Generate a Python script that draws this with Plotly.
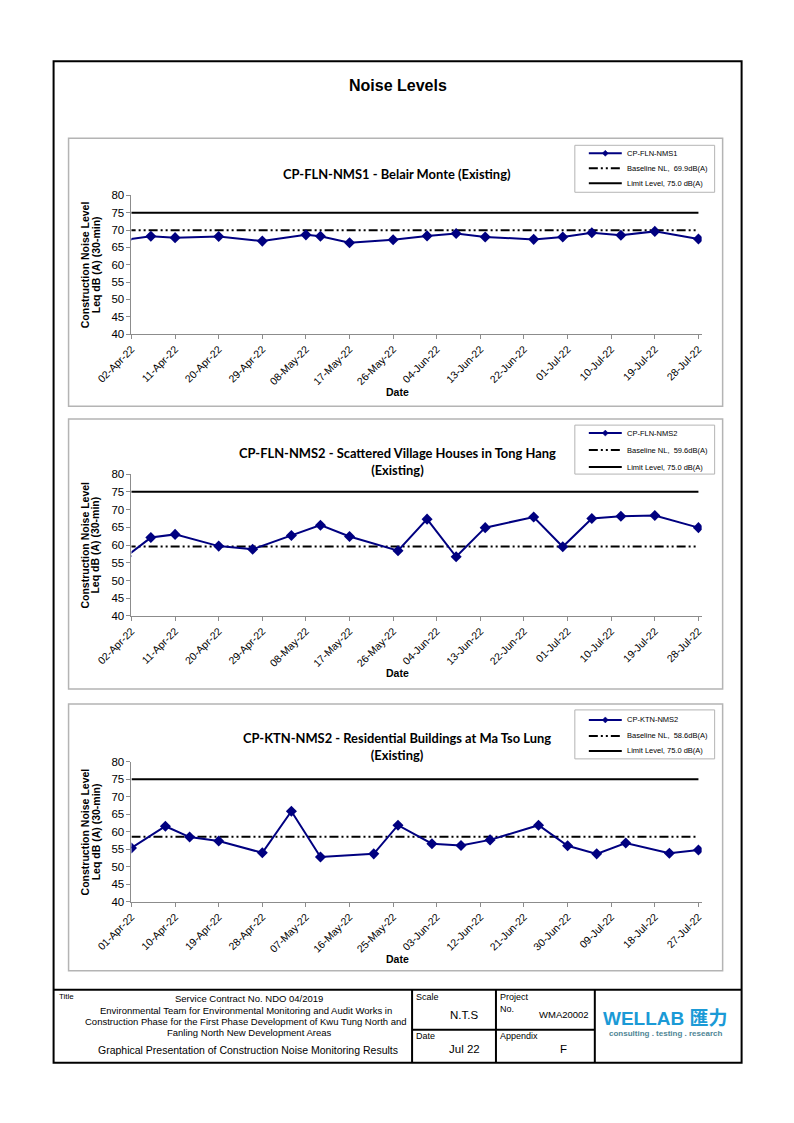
import plotly.graph_objects as go

W, H = 794, 1123

# calibration between page pixels and rendered picture
SX, OX = 0.9535, 42.4
SY, OY = 0.990, 12.6


def px(x):
    return ((x - OX) / SX) / W


def py(y):
    return 1 - ((y - OY) / SY) / H


# ---------------- data ----------------
nms1_dates = ["2022-04-01", "2022-04-06", "2022-04-11", "2022-04-20", "2022-04-29", "2022-05-08",
              "2022-05-11", "2022-05-17", "2022-05-26", "2022-06-02", "2022-06-08", "2022-06-14",
              "2022-06-24", "2022-06-30", "2022-07-06", "2022-07-12", "2022-07-19", "2022-07-28"]
nms1_values = [67.2, 68.2, 67.8, 68.1, 66.8, 68.6, 68.2, 66.3, 67.2, 68.3, 69.0, 68.0,
               67.3, 68.0, 69.2, 68.5, 69.6, 67.4]
nms1_baseline = 69.9

nms2_dates = ["2022-04-01", "2022-04-06", "2022-04-11", "2022-04-20", "2022-04-27", "2022-05-05",
              "2022-05-11", "2022-05-17", "2022-05-27", "2022-06-02", "2022-06-08", "2022-06-14",
              "2022-06-24", "2022-06-30", "2022-07-06", "2022-07-12", "2022-07-19", "2022-07-28"]
nms2_values = [56.9, 62.1, 63.0, 59.7, 58.8, 62.7, 65.6, 62.4, 58.4, 67.3, 56.7, 64.9,
               67.9, 59.5, 67.5, 68.1, 68.3, 64.9]
nms2_baseline = 59.6

ktn_dates = ["2022-04-01", "2022-04-08", "2022-04-13", "2022-04-19", "2022-04-28", "2022-05-04",
             "2022-05-10", "2022-05-21", "2022-05-26", "2022-06-02", "2022-06-08", "2022-06-14",
             "2022-06-24", "2022-06-30", "2022-07-06", "2022-07-12", "2022-07-21", "2022-07-27"]
ktn_values = [55.4, 61.6, 58.5, 57.4, 54.0, 65.9, 52.8, 53.7, 61.9, 56.6, 56.1, 57.7,
              61.9, 56.0, 53.7, 56.8, 53.9, 54.8]
ktn_baseline = 58.6

limit_level = 75.0

station_names = ["CP-FLN-NMS1", "CP-FLN-NMS2", "CP-KTN-NMS2"]
chart_titles = [
    "CP-FLN-NMS1 - Belair Monte (Existing)",
    "CP-FLN-NMS2 - Scattered Village Houses in Tong Hang<br>(Existing)",
    "CP-KTN-NMS2 - Residential Buildings at Ma Tso Lung<br>(Existing)",
]
baseline_labels = ["Baseline NL,  69.9dB(A)", "Baseline NL,  59.6dB(A)", "Baseline NL,  58.6dB(A)"]
limit_labels = ["Limit Level, 75.0 dB(A)", "Limit Level, 75.0 dB(A)", "Limit Level, 75.0 dB(A)"]
axis_starts = ["2022-04-02", "2022-04-02", "2022-04-01"]
axis_ends = ["2022-07-28 16:00", "2022-07-28 16:00", "2022-07-27 16:00"]
y_range = [40, 80]
y_dtick = 5
x_dtick_days = 9

# ---------------- layout geometry (pixels) ----------------
panels = [
    dict(dates=nms1_dates, values=nms1_values, baseline=nms1_baseline,
         box=(67, 137, 722, 405), plot_top=194, plot_bottom=333,
         title_y=173, date_y=391, leg_box=(574, 144, 714, 191), leg_rows=(152, 167, 182)),
    dict(dates=nms2_dates, values=nms2_values, baseline=nms2_baseline,
         box=(67, 418, 722, 688), plot_top=473, plot_bottom=615,
         title_y=460, date_y=672, leg_box=(574, 424, 714, 473), leg_rows=(432, 449, 466)),
    dict(dates=ktn_dates, values=ktn_values, baseline=ktn_baseline,
         box=(67, 703, 722, 970), plot_top=761, plot_bottom=901,
         title_y=746, date_y=958, leg_box=(574, 709, 714, 758), leg_rows=(719, 735, 750)),
]
plot_left, plot_right = 130, 701

NAVY = "#000080"
AXIS_GREY = "#8c8c8c"
DASHDOTDOT = "9px,3px,2px,3px,2px,3px"
FONT = "Liberation Sans, Arial, sans-serif"
TITLE_FONT = "Lato, Liberation Sans, sans-serif"

fig = go.Figure()
shapes = []
annotations = []
layout_axes = {}

for i, p in enumerate(panels):
    n = "" if i == 0 else str(i + 1)
    xa, ya = "x" + n, "y" + n
    dates = p["dates"]
    # baseline
    fig.add_trace(go.Scatter(x=[dates[0], dates[-1]], y=[p["baseline"], p["baseline"]],
                             mode="lines", line=dict(color="black", width=2, dash=DASHDOTDOT),
                             xaxis=xa, yaxis=ya, showlegend=False, hoverinfo="skip"))
    # limit
    fig.add_trace(go.Scatter(x=[dates[0], dates[-1]], y=[limit_level, limit_level],
                             mode="lines", line=dict(color="black", width=2),
                             xaxis=xa, yaxis=ya, showlegend=False, hoverinfo="skip"))
    # measured
    fig.add_trace(go.Scatter(x=dates, y=p["values"], mode="lines+markers", name=station_names[i],
                             line=dict(color=NAVY, width=2),
                             marker=dict(symbol="diamond", size=8.5, color=NAVY),
                             cliponaxis=True, xaxis=xa, yaxis=ya, showlegend=False))

    layout_axes["xaxis" + n] = dict(
        domain=[px(plot_left), px(plot_right)], anchor=ya, type="date",
        range=[axis_starts[i], axis_ends[i]], tick0=axis_starts[i],
        dtick=x_dtick_days * 86400000, tickformat="%d-%b-%y", tickangle=-45,
        ticks="outside", ticklen=4, tickcolor=AXIS_GREY, showline=True, linecolor=AXIS_GREY,
        linewidth=1, showgrid=False, zeroline=False,
        tickfont=dict(family=FONT, size=10.5, color="black"))
    layout_axes["yaxis" + n] = dict(
        domain=[py(p["plot_bottom"]), py(p["plot_top"])], anchor=xa,
        range=y_range, dtick=y_dtick, ticks="outside", ticklen=4, tickcolor=AXIS_GREY,
        showline=True, linecolor=AXIS_GREY, linewidth=1, showgrid=False, zeroline=False,
        tickfont=dict(family=FONT, size=11.5, color="black"))

    # panel box
    x0, y0, x1, y1 = p["box"]
    shapes.append(dict(type="rect", xref="paper", yref="paper", x0=px(x0), x1=px(x1),
                       y0=py(y1), y1=py(y0), line=dict(color="#b4b4b4", width=1.5)))
    # chart title
    annotations.append(dict(text="<b>" + chart_titles[i] + "</b>", x=px(396), y=py(p["title_y"]),
                            xref="paper", yref="paper", showarrow=False, xanchor="center",
                            yanchor="middle", font=dict(family=TITLE_FONT, size=12.9, color="black")))
    # y title (two lines)
    mid = (p["plot_top"] + p["plot_bottom"]) / 2
    annotations.append(dict(text="<b>Construction Noise Level</b>", x=px(83), y=py(mid),
                            xref="paper", yref="paper", showarrow=False, textangle=-90,
                            xanchor="center", yanchor="middle",
                            font=dict(family=FONT, size=10.5, color="black")))
    annotations.append(dict(text="<b>Leq dB (A) (30-min)</b>", x=px(94), y=py(mid),
                            xref="paper", yref="paper", showarrow=False, textangle=-90,
                            xanchor="center", yanchor="middle",
                            font=dict(family=FONT, size=10.5, color="black")))
    # x title
    annotations.append(dict(text="<b>Date</b>", x=px(396), y=py(p["date_y"]), xref="paper",
                            yref="paper", showarrow=False, xanchor="center", yanchor="middle",
                            font=dict(family=FONT, size=10.5, color="black")))
    # legend box
    lx0, ly0, lx1, ly1 = p["leg_box"]
    shapes.append(dict(type="rect", xref="paper", yref="paper", x0=px(lx0), x1=px(lx1),
                       y0=py(ly1), y1=py(ly0), line=dict(color="#b4b4b4", width=1),
                       fillcolor="white"))
    r1, r2, r3 = p["leg_rows"]
    shapes.append(dict(type="line", xref="paper", yref="paper", x0=px(588), x1=px(621),
                       y0=py(r1), y1=py(r1), line=dict(color=NAVY, width=2)))
    cx, d = 604.5, 3
    shapes.append(dict(type="path", xref="paper", yref="paper",
                       path=f"M {px(cx - d)},{py(r1)} L {px(cx)},{py(r1 - d)} L {px(cx + d)},{py(r1)} L {px(cx)},{py(r1 + d)} Z",
                       fillcolor=NAVY, line=dict(color=NAVY, width=0.5)))
    shapes.append(dict(type="line", xref="paper", yref="paper", x0=px(588), x1=px(621),
                       y0=py(r2), y1=py(r2), line=dict(color="black", width=2, dash=DASHDOTDOT)))
    shapes.append(dict(type="line", xref="paper", yref="paper", x0=px(588), x1=px(621),
                       y0=py(r3), y1=py(r3), line=dict(color="black", width=2)))
    for txt_, ry in ((station_names[i], r1), (baseline_labels[i], r2), (limit_labels[i], r3)):
        annotations.append(dict(text=txt_, x=px(624), y=py(ry), xref="paper", yref="paper",
                                showarrow=False, xanchor="left", yanchor="middle",
                                font=dict(family=FONT, size=7.5, color="black")))

# ---------------- page frame & title block ----------------
BLK = dict(color="black", width=2)
shapes += [
    dict(type="rect", xref="paper", yref="paper", x0=px(52), x1=px(741), y0=py(1062), y1=py(60), line=BLK),
    dict(type="line", xref="paper", yref="paper", x0=px(52), x1=px(741), y0=py(989), y1=py(989), line=BLK),
    dict(type="line", xref="paper", yref="paper", x0=px(411), x1=px(411), y0=py(989), y1=py(1062), line=BLK),
    dict(type="line", xref="paper", yref="paper", x0=px(495), x1=px(495), y0=py(989), y1=py(1062), line=BLK),
    dict(type="line", xref="paper", yref="paper", x0=px(594), x1=px(594), y0=py(989), y1=py(1062), line=BLK),
    dict(type="line", xref="paper", yref="paper", x0=px(411), x1=px(594), y0=py(1029), y1=py(1029), line=BLK),
]


def txt(text, x, y, size, anchor="center", bold=False, color="black", family=FONT):
    if bold:
        text = "<b>" + text + "</b>"
    annotations.append(dict(text=text, x=px(x), y=py(y), xref="paper", yref="paper",
                            showarrow=False, xanchor=anchor, yanchor="middle",
                            font=dict(family=family, size=size, color=color)))


txt("Noise Levels", 397, 84, 16, bold=True)
txt("Title", 55, 996, 8, anchor="left")
txt("Service Contract No. NDO 04/2019", 248, 998, 9.5)
txt("Environmental Team for Environmental Monitoring and Audit Works in", 245, 1010, 9.5)
txt("Construction Phase for the First Phase Development of Kwu Tung North and", 245, 1021, 9.5)
txt("Fanling North New Development Areas", 248, 1032, 9.5)
txt("Graphical Presentation of Construction Noise Monitoring Results", 247, 1049, 10.5)
txt("Scale", 413, 996, 9, anchor="left")
txt("N.T.S", 463, 1014, 11.5)
txt("Date", 413, 1035, 9, anchor="left")
txt("Jul 22", 463, 1048, 11.5)
txt("Project", 497, 996, 9, anchor="left")
txt("No.", 497, 1008, 9, anchor="left")
txt("WMA20002", 590, 1014, 9.5, anchor="right")
txt("Appendix", 497, 1035, 9, anchor="left")
txt("F", 563, 1048, 11.5)
txt("WELLAB 匯力", 665, 1018, 19, bold=True, color="#1b9ad6",
    family="Liberation Sans, Noto Sans CJK SC, sans-serif")
txt("consulting . testing . research", 665, 1033, 8, bold=True, color="#4f8595")

fig.update_layout(
    width=W, height=H, autosize=False,
    margin=dict(l=0, r=0, t=0, b=0),
    paper_bgcolor="white", plot_bgcolor="white",
    showlegend=False,
    shapes=shapes, annotations=annotations,
    **layout_axes,
)

fig.write_html("out.html")
